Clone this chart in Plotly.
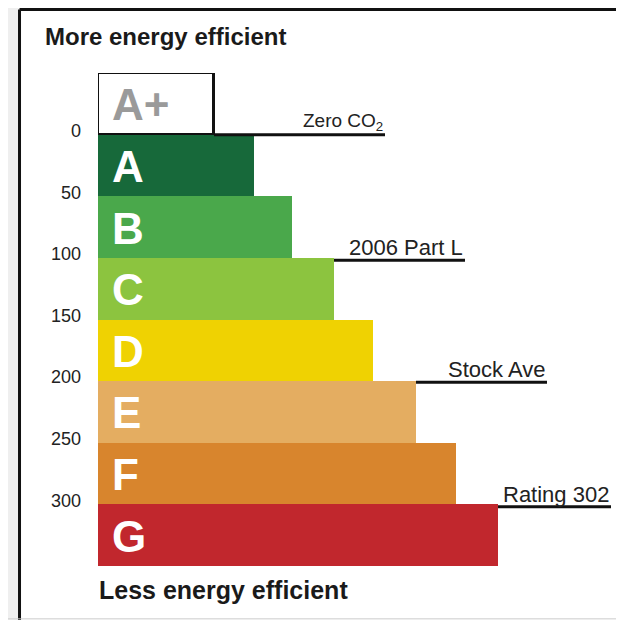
"""Energy efficiency rating chart (A+ to G bands)."""
import plotly.graph_objects as go

# Bands: rating lower bound, bar length and colour
bands = ["A+", "A", "B", "C", "D", "E", "F", "G"]
band_start = [-50, 0, 50, 100, 150, 200, 250, 300]
band_length = [116, 156, 194, 236, 275, 318, 358, 400]
band_colors = [
    "#ffffff",  # A+
    "#17693a",  # A
    "#4aa84b",  # B
    "#8cc43f",  # C
    "#efd202",  # D
    "#e4ad61",  # E
    "#d8852d",  # F
    "#c1272d",  # G
]
letter_colors = ["#9a9a9a"] + ["#ffffff"] * 7

# Reference ratings with labels, and where their marker lines end
ref_labels = ["Zero CO<sub>2</sub>", "2006 Part L", "Stock Ave", "Rating 302"]
ref_values = [0, 102, 201, 302]
ref_line_end = [287, 367, 449, 513]

tick_values = [0, 50, 100, 150, 200, 250, 300]

BAND = 50
FONT = "Liberation Sans, Arial, sans-serif"
label_sizes = [19, 22, 22, 22]
label_shifts = [-1, -2, -2, -2]

fig = go.Figure()

fig.add_trace(
    go.Bar(
        x=band_length,
        y=[s + BAND / 2 for s in band_start],
        width=[BAND] * len(bands),
        orientation="h",
        marker=dict(
            color=band_colors,
            line=dict(
                color=["#111111"] + band_colors[1:],
                width=[3] + [0] * 7,
            ),
        ),
        hoverinfo="skip",
        showlegend=False,
    )
)

# Band letters
for name, start, col in zip(bands, band_start, letter_colors):
    fig.add_annotation(
        x=12,
        y=start + BAND / 2,
        xref="x",
        yref="y",
        text=f"<b>{name}</b>",
        showarrow=False,
        xanchor="left",
        yanchor="middle",
        yshift=-1,
        font=dict(family=FONT, size=44, color=col),
    )

# Reference lines start from the end of the band they fall in
shapes = []
for label, value, end, size, shift in zip(
    ref_labels, ref_values, ref_line_end, label_sizes, label_shifts
):
    idx = next(
        i for i, s in enumerate(band_start) if s < value <= s + BAND
    )
    shapes.append(
        dict(
            type="line",
            xref="x",
            yref="y",
            x0=band_length[idx],
            x1=end,
            y0=value,
            y1=value,
            line=dict(color="#111111", width=3),
        )
    )
    fig.add_annotation(
        x=end,
        y=value,
        xref="x",
        yref="y",
        text=label,
        showarrow=False,
        xanchor="right",
        yanchor="bottom",
        yshift=shift,
        font=dict(family=FONT, size=size, color="#222222"),
    )

# Gray surround and black frame (top and left only)
shapes += [
    dict(type="rect", xref="paper", yref="paper", x0=-0.2, x1=-0.155,
         y0=-0.2, y1=1.2, fillcolor="#efefef", line=dict(width=0), layer="below"),
    dict(type="rect", xref="paper", yref="paper", x0=-0.2, x1=1.1,
         y0=1.131, y1=1.2, fillcolor="#efefef", line=dict(width=0), layer="below"),
    dict(type="line", xref="paper", yref="paper", x0=-0.1527, x1=1.1,
         y0=1.1288, y1=1.1288, line=dict(color="#111111", width=3)),
    dict(type="line", xref="paper", yref="paper", x0=-0.1527, x1=-0.1527,
         y0=-0.2, y1=1.1288, line=dict(color="#111111", width=3)),
    dict(type="line", xref="paper", yref="paper", x0=-0.2, x1=1.1,
         y0=-0.1072, y1=-0.1072, line=dict(color="#cccccc", width=1)),
]

fig.add_annotation(
    x=-0.107, y=1.075, xref="paper", yref="paper",
    text="<b>More energy efficient</b>", showarrow=False,
    xanchor="left", yanchor="middle",
    font=dict(family=FONT, size=24, color="#1a1a1a"),
)
fig.add_annotation(
    x=-0.002, y=-0.049, xref="paper", yref="paper",
    text="<b>Less energy efficient</b>", showarrow=False,
    xanchor="left", yanchor="middle",
    font=dict(family=FONT, size=25, color="#1a1a1a"),
)

fig.update_layout(
    width=616,
    height=612,
    margin=dict(l=90, r=12, t=65, b=54),
    paper_bgcolor="#ffffff",
    plot_bgcolor="#ffffff",
    bargap=0,
    shapes=shapes,
    xaxis=dict(
        range=[0, 514],
        showgrid=False,
        zeroline=False,
        showticklabels=False,
        showline=False,
        fixedrange=True,
    ),
    yaxis=dict(
        range=[350, -50],
        tickvals=tick_values,
        ticktext=[str(v) for v in tick_values],
        showgrid=False,
        zeroline=False,
        showline=False,
        ticks="",
        ticklabelstandoff=16,
        ticklabelshift=4,
        tickfont=dict(family=FONT, size=18, color="#222222"),
        fixedrange=True,
    ),
)

fig.write_html("out.html")
